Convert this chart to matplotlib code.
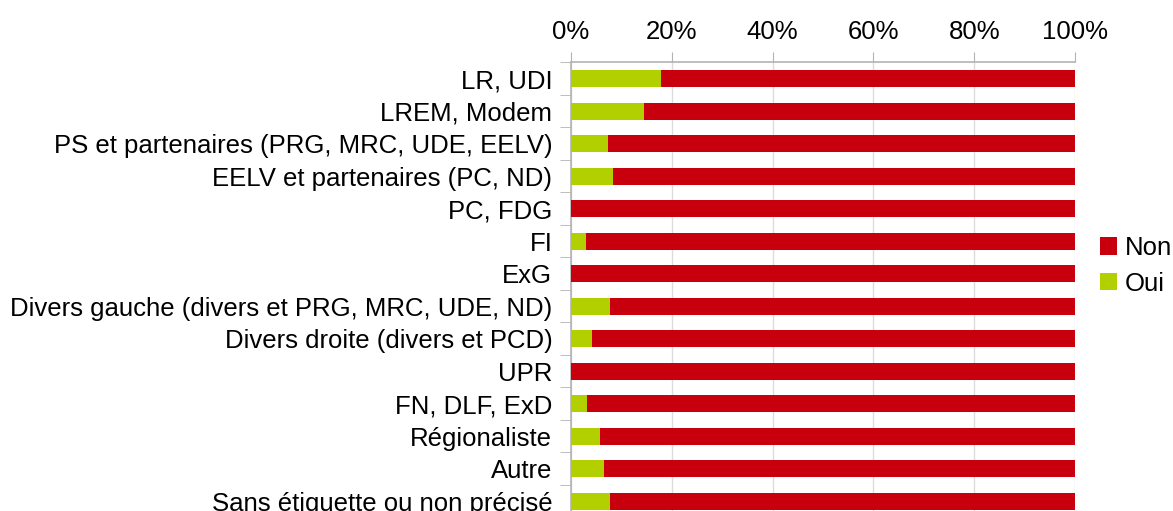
import matplotlib.pyplot as plt
import numpy as np

plt.rcParams['font.family'] = ['Liberation Sans', 'DejaVu Sans']

categories = ["LR, UDI", "LREM, Modem", "PS et partenaires (PRG, MRC, UDE, EELV)",
              "EELV et partenaires (PC, ND)", "PC, FDG", "FI", "ExG",
              "Divers gauche (divers et PRG, MRC, UDE, ND)",
              "Divers droite (divers et PCD)", "UPR", "FN, DLF, ExD",
              "Régionaliste", "Autre", "Sans étiquette ou non précisé"]
oui = [17.8, 14.5, 7.3, 8.3, 0, 3.0, 0, 7.7, 4.2, 0, 3.2, 5.7, 6.5, 7.7]
non = [100 - v for v in oui]

fs = 18.5
fig = plt.figure(figsize=(11.73, 5.11), dpi=100)
ax = fig.add_axes([0.4868, -0.0127, 0.4297, 0.8905])

y = np.arange(len(categories))
ax.barh(y, oui, height=0.52, color='#b2d000', label='Oui', zorder=3)
ax.barh(y, non, left=oui, height=0.52, color='#c8000e', label='Non', zorder=3)

ax.set_ylim(len(categories) - 0.5, -0.5)
ax.set_xlim(0, 100)
ax.set_xticks(np.arange(0, 101, 20))
ax.set_xticklabels([f"{v}%" for v in range(0, 101, 20)])
ax.xaxis.tick_top()
ax.tick_params(axis='x', length=7, color='#b3b3b3', labelsize=fs, pad=6)
ax.set_yticks(y)
ax.set_yticklabels(categories)
ax.set_yticks(np.arange(-0.5, len(categories), 1), minor=True)
ax.tick_params(axis='y', which='major', length=0, labelsize=fs, pad=13.5)
ax.tick_params(axis='y', which='minor', length=8, color='#b3b3b3')
ax.grid(axis='x', color='#dcdcdc', linewidth=1, zorder=0)

for s in ['right', 'bottom']:
    ax.spines[s].set_visible(False)
for s in ['top', 'left']:
    ax.spines[s].set_color('#b3b3b3')
    ax.spines[s].set_linewidth(1.2)

handles, labels = ax.get_legend_handles_labels()
fig.legend(handles[::-1], labels[::-1], loc='center left', bbox_to_anchor=(0.9378, 0.480),
           frameon=False, fontsize=fs, handlelength=0.66, handleheight=0.66,
           handletextpad=0.31, labelspacing=0.45, borderpad=0, borderaxespad=0)

fig.savefig('out.png', dpi=100)
